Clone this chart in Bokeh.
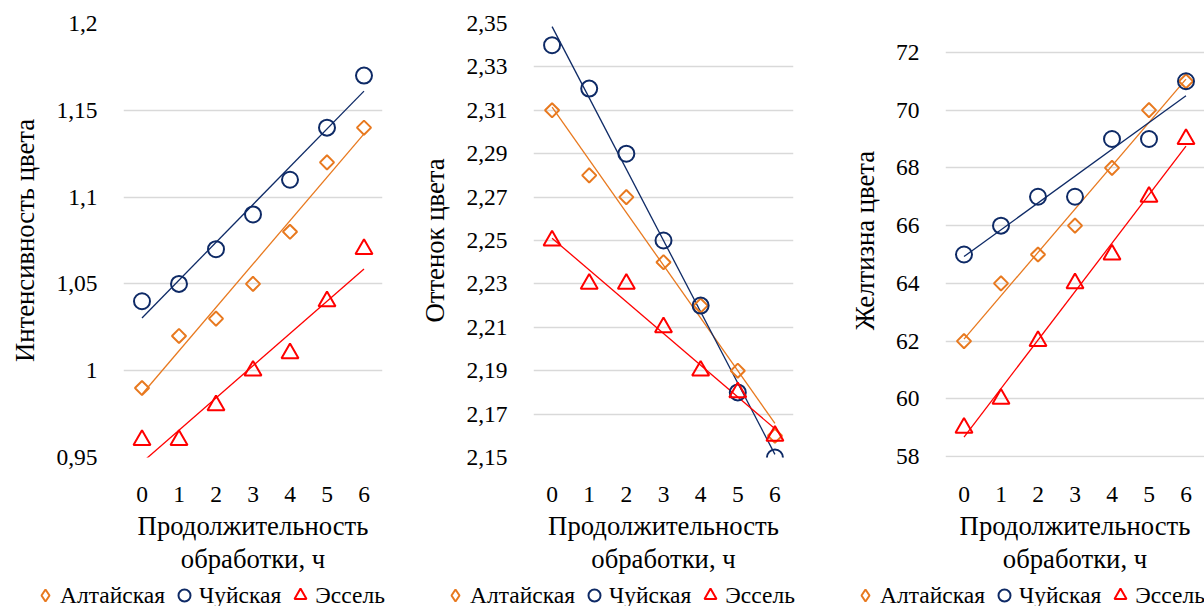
import numpy as np
from bokeh.plotting import figure
from bokeh.layouts import row, column
from bokeh.models import FixedTicker, Range1d, Legend, LegendItem
from bokeh.embed import file_html
from bokeh.resources import INLINE

# ---- data ----
hours = [0, 1, 2, 3, 4, 5, 6]
series_names = ["Алтайская", "Чуйская", "Эссель"]

intensity_altai = [0.99, 1.02, 1.03, 1.05, 1.08, 1.12, 1.14]
intensity_chuy = [1.04, 1.05, 1.07, 1.09, 1.11, 1.14, 1.17]
intensity_essel = [0.96, 0.96, 0.98, 1.00, 1.01, 1.04, 1.07]

hue_altai = [2.31, 2.28, 2.27, 2.24, 2.22, 2.19, 2.16]
hue_chuy = [2.34, 2.32, 2.29, 2.25, 2.22, 2.18, 2.15]
hue_essel = [2.25, 2.23, 2.23, 2.21, 2.19, 2.18, 2.16]

yellow_altai = [62, 64, 65, 66, 68, 70, 71]
yellow_chuy = [65, 66, 67, 67, 69, 69, 71]
yellow_essel = [59, 60, 62, 64, 65, 67, 69]

ticks1 = [0.95, 1.0, 1.05, 1.1, 1.15, 1.2]
labels1 = ["0,95", "1", "1,05", "1,1", "1,15", "1,2"]
ticks2 = [2.15, 2.17, 2.19, 2.21, 2.23, 2.25, 2.27, 2.29, 2.31, 2.33, 2.35]
labels2 = ["2,15", "2,17", "2,19", "2,21", "2,23", "2,25", "2,27", "2,29", "2,31", "2,33", "2,35"]
ticks3 = [58, 60, 62, 64, 66, 68, 70, 72]
labels3 = ["58", "60", "62", "64", "66", "68", "70", "72"]

y_titles = ["Интенсивность цвета", "Оттенок цвета", "Желтизна цвета"]
x_title = "Продолжительность\nобработки, ч"

COLORS = ["#E8791F", "#0E2A66", "#FF0000"]
MARKERS = ["square", "circle", "triangle"]
LEGEND_MARKERS = ["diamond", "circle", "triangle"]
SIZES = [10, 16, 17]
ANGLES = [np.pi / 4, 0, 0]
FONT = "Liberation Serif"
H = 576
TOP, FRAME_H = 23, 434
LEG_H = 30


def make_panel(series, ticks, labels, ytitle, yr, geom):
    width, left, right = geom
    p = figure(width=width, height=H, title=None,
               min_border_left=left, min_border_right=right,
               min_border_top=TOP, min_border_bottom=H - TOP - FRAME_H,
               x_range=Range1d(-0.5, 6.5), y_range=Range1d(*yr),
               output_backend="svg", toolbar_location=None, tools="")
    p.outline_line_color = None
    p.background_fill_color = "white"
    p.xgrid.grid_line_color = None
    p.ygrid.grid_line_color = "#D9D9D9"
    p.ygrid.grid_line_width = 1.5
    p.ygrid.ticker = FixedTicker(ticks=ticks)

    p.yaxis.ticker = FixedTicker(ticks=ticks)
    p.yaxis.major_label_overrides = {t: l for t, l in zip(ticks, labels)}
    p.xaxis.ticker = FixedTicker(ticks=hours)
    for ax in (p.xaxis, p.yaxis):
        ax.axis_line_color = None
        ax.major_tick_line_color = None
        ax.minor_tick_line_color = None
        ax.major_label_text_font = FONT
        ax.major_label_text_font_size = "23.5px"
        ax.major_label_text_color = "#000000"
        ax.axis_label_text_font = FONT
        ax.axis_label_text_font_size = "26.7px"
        ax.axis_label_text_font_style = "normal"
        ax.axis_label_text_color = "#000000"
        ax.axis_label_text_line_height = 1.1
    p.yaxis.major_label_standoff = 20
    p.yaxis.axis_label_standoff = 13
    p.yaxis.axis_label = ytitle
    p.xaxis.major_label_standoff = 23
    p.xaxis.axis_label_standoff = 6
    p.xaxis.axis_label = x_title

    for vals, c in zip(series, COLORS):
        k, b = np.polyfit(hours, vals, 1)
        p.line([hours[0], hours[-1]], [b + k * hours[0], b + k * hours[-1]],
               line_color=c, line_width=1.3)
    for vals, c, m, s, a in zip(series, COLORS, MARKERS, SIZES, ANGLES):
        p.scatter(hours, vals, marker=m, size=s, angle=a, line_color=c,
                  fill_color=None, line_width=2)
    return p


p1 = make_panel([intensity_altai, intensity_chuy, intensity_essel], ticks1, labels1,
                y_titles[0], (0.95, 1.2), (400, 123, 18))
p2 = make_panel([hue_altai, hue_chuy, hue_essel], ticks2, labels2,
                y_titles[1], (2.15, 2.35), (400, 133, 7))
p3 = make_panel([yellow_altai, yellow_chuy, yellow_essel], ticks3, labels3,
                y_titles[2], (57.97, 73.0), (404, 145, 0))

# legend strip under the three charts (one legend per chart);
# proxy renderers hold one point outside the visible range so only the legend shows them
lf = figure(width=1204, height=LEG_H, title=None, min_border=0,
            x_range=Range1d(0, 1204), y_range=Range1d(0, LEG_H),
            x_axis_type=None, y_axis_type=None,
            output_backend="svg", toolbar_location=None, tools="")
lf.outline_line_color = None
lf.xgrid.grid_line_color = None
lf.ygrid.grid_line_color = None
proxies = []
for c, m in zip(COLORS, LEGEND_MARKERS):
    proxies.append(lf.scatter(x=[-500], y=[-500], marker=m, size=12, line_color=c,
                              fill_color=None, line_width=2))
for leg_x in (30, 440, 850):
    leg = Legend(items=[LegendItem(label=n, renderers=[r]) for n, r in zip(series_names, proxies)],
                 orientation="horizontal", location=(leg_x, -4),
                 label_text_font=FONT, label_text_font_size="23.5px",
                 label_text_color="#000000",
                 glyph_width=30, glyph_height=30, label_standoff=0, spacing=4,
                 padding=0, margin=0, border_line_color=None,
                 background_fill_alpha=0)
    lf.add_layout(leg, "center")

layout = column(row(p1, p2, p3), lf)
open("out.html", "w").write(file_html(layout, INLINE))
